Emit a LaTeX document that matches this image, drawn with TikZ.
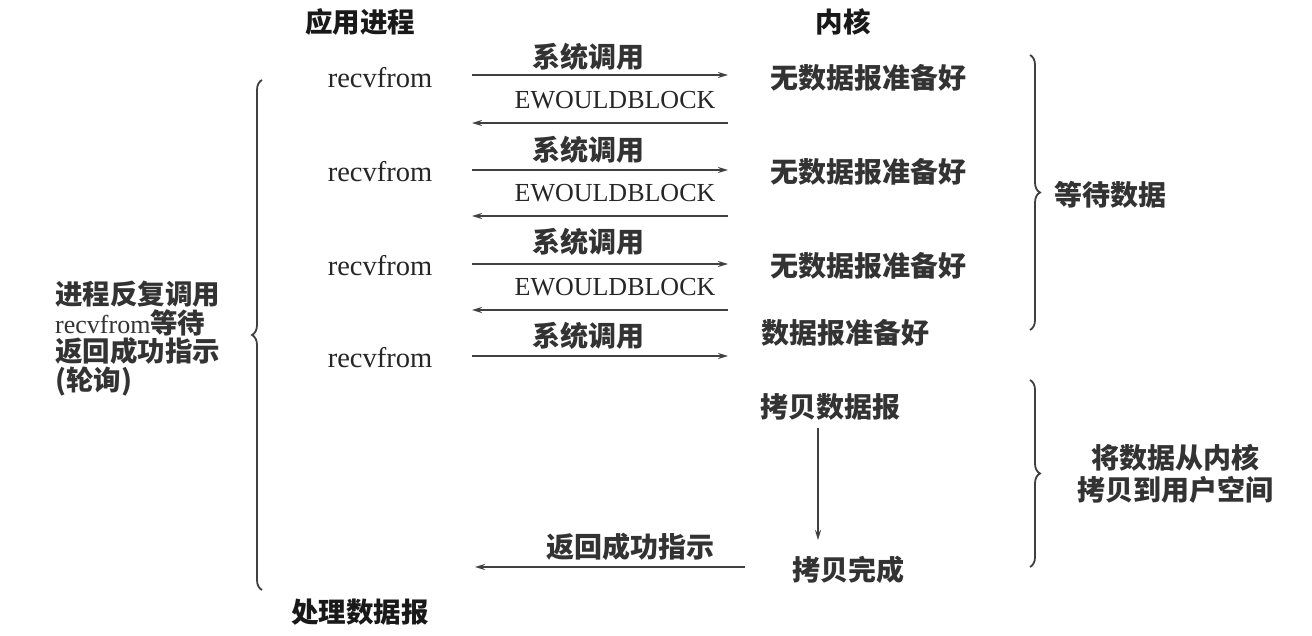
\documentclass[tikz,border=0pt]{standalone}
\usepackage{fontspec}
\setmainfont{Liberation Serif}
\newfontfamily\cjk{Noto Sans CJK SC}
\usetikzlibrary{arrows.meta,decorations.pathreplacing}
\begin{document}
\begin{tikzpicture}[x=1pt,y=-1pt,
  zh/.style={font=\cjk\bfseries\fontsize{28}{30}\selectfont, inner sep=0pt, text=black!80},
  zhb/.style={font=\cjk\bfseries\fontsize{27.5}{30}\selectfont, inner sep=0pt, text=black!90},
  en/.style={font=\fontsize{28.5}{30}\selectfont, inner sep=0pt, text=black!85},
  ew/.style={font=\fontsize{26}{30}\selectfont, inner sep=0pt, text=black!85},
  arr/.style={-{Stealth[length=10pt,width=6pt]}, line width=1.7pt, draw=black!75},
  brc/.style={decorate, decoration={brace, amplitude=10pt}, line width=1.8pt, draw=black!75}]
\useasboundingbox[fill=white] (0,0) rectangle (1312,636);
% headers
\node[zhb] (hApp) at (360,22) {应用进程};
\node[zhb] (hKer) at (843,22) {内核};
% application side
\node[en] (r1) at (380,78) {recvfrom};
\node[en] (r2) at (380,172) {recvfrom};
\node[en] (r3) at (380,266) {recvfrom};
\node[en] (r4) at (380,358) {recvfrom};
% kernel side
\node[zh] (k1) at (868,78) {无数据报准备好};
\node[zh] (k2) at (868,172) {无数据报准备好};
\node[zh] (k3) at (868,266) {无数据报准备好};
\node[zh] (k4) at (845,333) {数据报准备好};
\node[zh] (c1) at (830,407) {拷贝数据报};
\node[zh] (c2) at (848,570) {拷贝完成};
\node[zhb] (proc) at (360,612) {处理数据报};
% arrow end points
\foreach \i/\y in {1/75,2/170,3/264,4/356}{
  \coordinate (sa\i) at (472,\y);
  \coordinate (sb\i) at (728,\y);
}
\foreach \i/\y in {1/123,2/216,3/310}{
  \coordinate (ea\i) at (728,\y);
  \coordinate (eb\i) at (472,\y);
}
% call labels
\node[zh] (l1) at (588,57) {系统调用};
\node[zh] (l2) at (588,150) {系统调用};
\node[zh] (l3) at (588,242) {系统调用};
\node[zh] (l4) at (588,336) {系统调用};
\node[ew] (w1) at (615,100) {EWOULDBLOCK};
\node[ew] (w2) at (615,193) {EWOULDBLOCK};
\node[ew] (w3) at (615,287) {EWOULDBLOCK};
\foreach \i in {1,2,3,4}{ \draw[arr] (sa\i) -- (sb\i); }
\foreach \i in {1,2,3}{ \draw[arr] (ea\i) -- (eb\i); }
% copy arrow
\coordinate (ca) at (818,428);
\coordinate (cb) at (818,540);
\draw[arr] (ca) -- (cb);
% return
\node[zh] (ret) at (630,547) {返回成功指示};
\coordinate (ra) at (745,567);
\coordinate (rb) at (475,567);
\draw[arr] (ra) -- (rb);
% left brace and text
\coordinate (lb1) at (262,590);
\coordinate (lb2) at (262,80);
\draw[brc] (lb1) -- (lb2);
\node[zh, anchor=north west, align=left, font=\cjk\bfseries\fontsize{27.5}{28.5}\selectfont] (poll) at (55,281)
  {进程反复调用\\{\rmfamily\mdseries\fontsize{26}{28.5}\selectfont recvfrom}等待\\返回成功指示\\(轮询)};
% right braces and text
\coordinate (rb1a) at (1030,55);
\coordinate (rb1b) at (1030,330);
\draw[brc] (rb1a) -- (rb1b);
\node[zh] (wait) at (1110,195) {等待数据};
\coordinate (rb2a) at (1030,380);
\coordinate (rb2b) at (1030,567);
\draw[brc] (rb2a) -- (rb2b);
\node[zh, align=center, font=\cjk\bfseries\fontsize{28}{32}\selectfont] (copy) at (1175,474) {将数据从内核\\拷贝到用户空间};
\end{tikzpicture}
\end{document}
